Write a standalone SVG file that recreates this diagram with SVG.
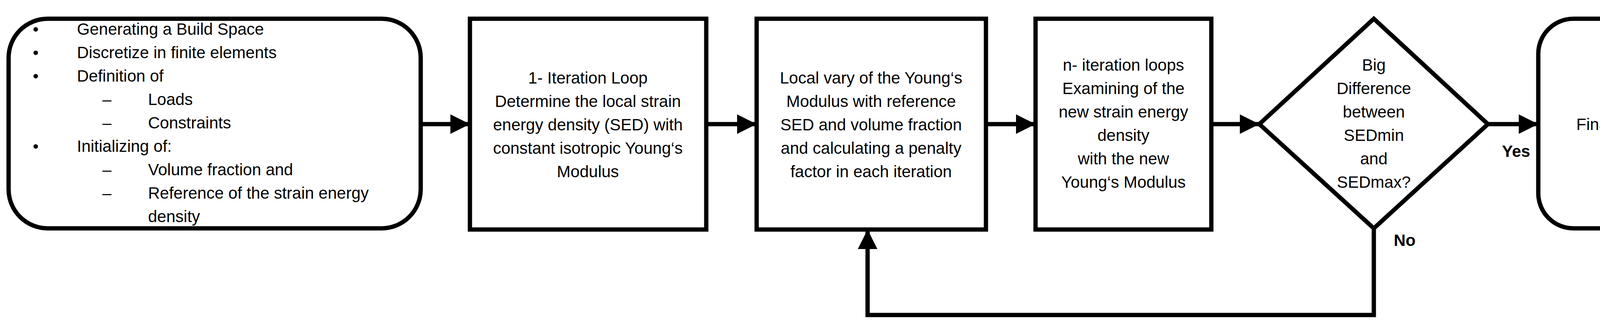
<svg xmlns="http://www.w3.org/2000/svg" width="4408" height="848" viewBox="0 0 4408 848">
<style>
.s{fill:#fff;stroke:#000;stroke-width:11}
text{font-family:"Liberation Sans",Arial,sans-serif;font-size:42px;fill:#000}
.c{text-anchor:middle}
.b{font-weight:bold}
.l{fill:none;stroke:#000;stroke-width:11}
</style>
<defs><marker id="a" markerUnits="userSpaceOnUse" markerWidth="60" markerHeight="60" refX="50" refY="25" orient="auto"><path d="M0,0L50,25L0,50Z" fill="#000"/></marker></defs>
<rect width="4408" height="848" fill="#fff"/>
<g id="connectors">
<line class="l" x1="1077" y1="318" x2="1203" y2="318" marker-end="url(#a)"/>
<line class="l" x1="1808" y1="318" x2="1937" y2="318" marker-end="url(#a)"/>
<line class="l" x1="2524" y1="318" x2="2651" y2="318" marker-end="url(#a)"/>
<line class="l" x1="3101" y1="318" x2="3224" y2="318" marker-end="url(#a)"/>
<line class="l" x1="3809" y1="318" x2="3938" y2="318" marker-end="url(#a)"/>
<polyline class="l" points="3517,585 3517,807 2221,807 2221,588" marker-end="url(#a)"/>
<text class="b" x="3845" y="402">Yes</text>
<text class="b" x="3568" y="630">No</text>
</g>
<g id="n1"><rect class="s" x="22" y="48" width="1055" height="537" rx="100"/>
<text x="84" y="89">•</text><text x="197" y="89">Generating a Build Space</text>
<text x="84" y="149">•</text><text x="197" y="149">Discretize in finite elements</text>
<text x="84" y="209">•</text><text x="197" y="209">Definition of</text>
<text x="262" y="269">–</text><text x="379" y="269">Loads</text>
<text x="262" y="329">–</text><text x="379" y="329">Constraints</text>
<text x="84" y="389">•</text><text x="197" y="389">Initializing of:</text>
<text x="262" y="449">–</text><text x="379" y="449">Volume fraction and</text>
<text x="262" y="509">–</text><text x="379" y="509">Reference of the strain energy</text>
<text x="379" y="569">density</text></g>
<g id="n2"><rect class="s" x="1203" y="48" width="605" height="540"/>
<text class="c" x="1505" y="214">1- Iteration Loop</text>
<text class="c" x="1505" y="274">Determine the local strain</text>
<text class="c" x="1505" y="334">energy density (SED) with</text>
<text class="c" x="1505" y="394">constant isotropic Young‘s</text>
<text class="c" x="1505" y="454">Modulus</text></g>
<g id="n3"><rect class="s" x="1937" y="48" width="587" height="540"/>
<text class="c" x="2230" y="214">Local vary of the Young‘s</text>
<text class="c" x="2230" y="274">Modulus with reference</text>
<text class="c" x="2230" y="334">SED and volume fraction</text>
<text class="c" x="2230" y="394">and calculating a penalty</text>
<text class="c" x="2230" y="454">factor in each iteration</text></g>
<g id="n4"><rect class="s" x="2651" y="48" width="450" height="540"/>
<text class="c" x="2876" y="181">n- iteration loops</text>
<text class="c" x="2876" y="241">Examining of the</text>
<text class="c" x="2876" y="301">new strain energy</text>
<text class="c" x="2876" y="361">density</text>
<text class="c" x="2876" y="421">with the new</text>
<text class="c" x="2876" y="481">Young‘s Modulus</text></g>
<g id="n5"><polygon class="s" points="3517,48 3809,318 3517,585 3224,318"/>
<text class="c" x="3517" y="181">Big</text>
<text class="c" x="3517" y="241">Difference</text>
<text class="c" x="3517" y="301">between</text>
<text class="c" x="3517" y="361">SEDmin</text>
<text class="c" x="3517" y="421">and</text>
<text class="c" x="3517" y="481">SEDmax?</text></g>
<g id="n6"><rect class="s" x="3938" y="48" width="428" height="537" rx="90"/>
<text class="c" x="4152" y="333">Final Design</text></g>
</svg>
